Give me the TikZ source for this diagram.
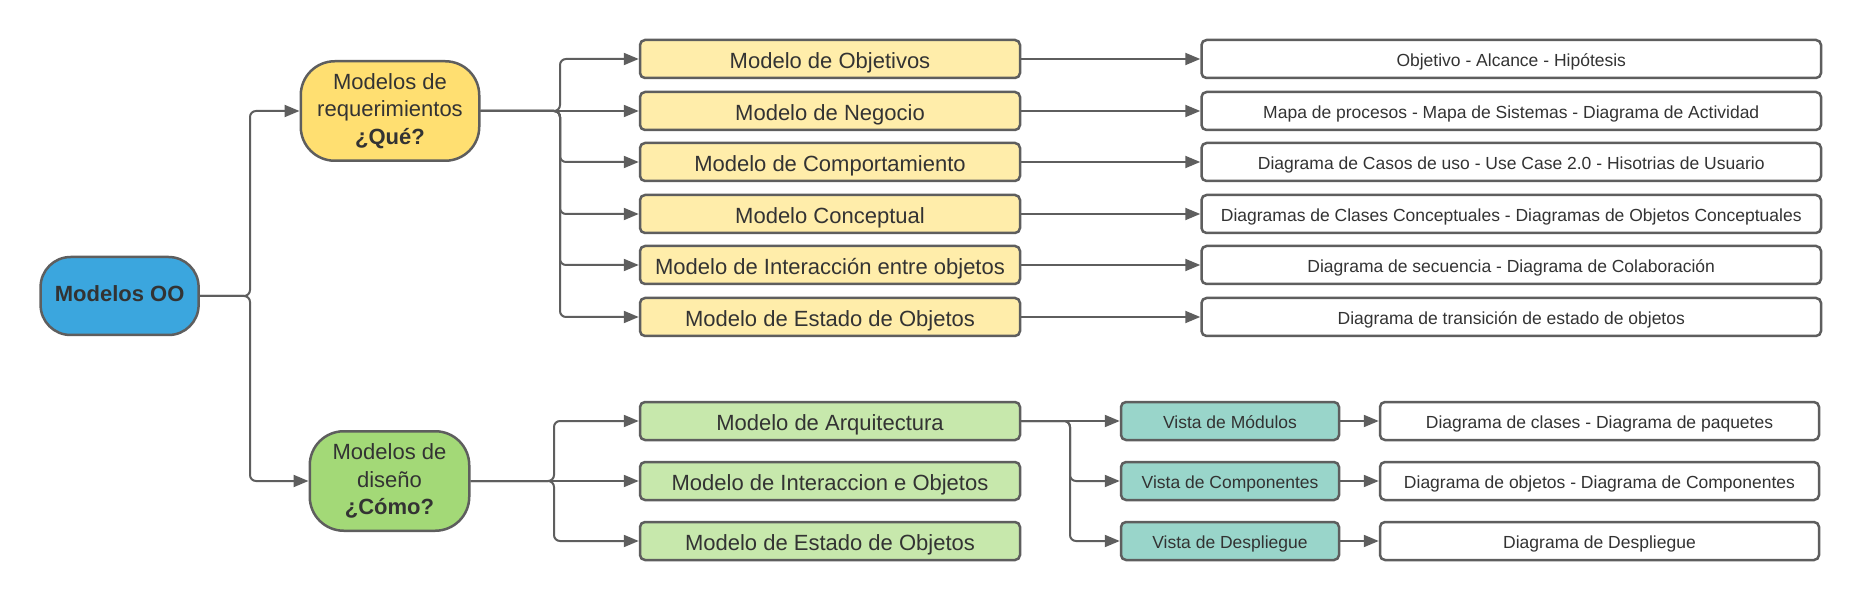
\documentclass[tikz,border=0pt]{standalone}
\usepackage{fontspec}
\setmainfont{Liberation Sans}
\usetikzlibrary{positioning,arrows.meta}

\definecolor{lnc}{HTML}{5E5E5E}
\definecolor{txc}{HTML}{333333}
\definecolor{blu}{HTML}{3BA6DE}
\definecolor{yel}{HTML}{FFDF71}
\definecolor{yelb}{HTML}{FFEDAA}
\definecolor{grn}{HTML}{A3D977}
\definecolor{grnb}{HTML}{C7E8AC}
\definecolor{tea}{HTML}{99D5CA}

\begin{document}
\begin{tikzpicture}[x=1pt, y=1pt, thick,
    base/.style={draw=lnc, line width=2.5pt, rounded corners=5pt, text=txc, minimum height=38pt, align=center},
    big/.style={base, rounded corners=34pt, minimum height=99.5pt, font=\fontsize{22}{27.5}\selectfont},
    ybox/.style={base, fill=yelb, minimum width=380pt, text height=19.8pt, text depth=0pt, font=\fontsize{22}{26}\selectfont},
    gbox/.style={base, fill=grnb, minimum width=380pt, text height=19.8pt, text depth=0pt, font=\fontsize{22}{26}\selectfont},
    tbox/.style={base, fill=tea, minimum width=218pt, text height=15.4pt, text depth=0pt, font=\fontsize{17.5}{21}\selectfont},
    wbox/.style={base, fill=white, minimum width=619.5pt, text height=15.4pt, text depth=0pt, font=\fontsize{17.5}{21}\selectfont},
    link/.style={draw=lnc, line width=2pt, rounded corners=6pt},
    arr/.style={link, -{Triangle[length=15pt,width=12pt]}}]
    \path[use as bounding box, fill=white] (0,0) rectangle (1860,-601);

    % main nodes
    \node[big, fill=blu, minimum width=158pt, minimum height=78pt, rounded corners=30pt, text depth=4.4pt, font=\fontsize{22}{26}\selectfont\bfseries] (root) at (119.6,-296) {Modelos OO};
    \node[big, fill=yel, minimum width=178.5pt] (yc) at (390,-111) {Modelos de\\requerimientos\\\textbf{¿Qué?}};
    \node[big, fill=grn, minimum width=159.5pt] (gc) at (389.5,-481) {Modelos de\\diseño\\\textbf{¿Cómo?}};

    % requirement models
    \node[ybox] (m1) at (830,-59) {Modelo de Objetivos};
    \node[ybox] (m2) [below=11.5pt of m1] {Modelo de Negocio};
    \node[ybox] (m3) [below=10.5pt of m2] {Modelo de Comportamiento};
    \node[ybox] (m4) [below=11.5pt of m3] {Modelo Conceptual};
    \node[ybox] (m5) [below=10.5pt of m4] {Modelo de Interacción entre objetos};
    \node[ybox] (m6) [below=11.5pt of m5] {Modelo de Estado de Objetos};

    \node[wbox] (w1) [right=179pt of m1] {Objetivo - Alcance - Hipótesis};
    \node[wbox] (w2) [right=179pt of m2] {Mapa de procesos - Mapa de Sistemas - Diagrama de Actividad};
    \node[wbox] (w3) [right=179pt of m3] {Diagrama de Casos de uso - Use Case 2.0 - Hisotrias de Usuario};
    \node[wbox] (w4) [right=179pt of m4] {Diagramas de Clases Conceptuales - Diagramas de Objetos Conceptuales};
    \node[wbox] (w5) [right=179pt of m5] {Diagrama de secuencia - Diagrama de Colaboración};
    \node[wbox] (w6) [right=179pt of m6] {Diagrama de transición de estado de objetos};

    % design models
    \node[gbox] (g1) at (830,-421) {Modelo de Arquitectura};
    \node[gbox] (g2) [below=19.5pt of g1] {Modelo de Interaccion e Objetos};
    \node[gbox] (g3) [below=19.5pt of g2] {Modelo de Estado de Objetos};

    \node[tbox] (v1) [right=98.5pt of g1] {Vista de Módulos};
    \node[tbox] (v2) [right=98.5pt of g2] {Vista de Componentes};
    \node[tbox] (v3) [right=98.5pt of g3] {Vista de Despliegue};

    \node[wbox, minimum width=439pt] (d1) [right=38.5pt of v1] {Diagrama de clases - Diagrama de paquetes};
    \node[wbox, minimum width=439pt] (d2) [right=38.5pt of v2] {Diagrama de objetos - Diagrama de Componentes};
    \node[wbox, minimum width=439pt] (d3) [right=38.5pt of v3] {Diagrama de Despliegue};

    % branch points
    \coordinate (rj) at (250,-296);
    \coordinate (yj) at (560,-111);
    \coordinate (gj) at (554,-481);
    \coordinate (aj) at (1070,-421);

    \draw[arr] (root) -- (rj) |- (yc);
    \draw[arr] (root) -- (rj) |- (gc);

    \draw[arr] (yc) -- (m2);
    \draw[arr] (yc) -- (yj) |- (m1);
    \draw[arr] (yc) -- (yj) |- (m3);
    \draw[arr] (yc) -- (yj) |- (m4);
    \draw[arr] (yc) -- (yj) |- (m5);
    \draw[arr] (yc) -- (yj) |- (m6);

    \draw[arr] (m1) -- (w1);
    \draw[arr] (m2) -- (w2);
    \draw[arr] (m3) -- (w3);
    \draw[arr] (m4) -- (w4);
    \draw[arr] (m5) -- (w5);
    \draw[arr] (m6) -- (w6);

    \draw[arr] (gc) -- (g2);
    \draw[arr] (gc) -- (gj) |- (g1);
    \draw[arr] (gc) -- (gj) |- (g3);

    \draw[arr] (g1) -- (v1);
    \draw[arr] (g1) -- (aj) |- (v2);
    \draw[arr] (g1) -- (aj) |- (v3);

    \draw[arr] (v1) -- (d1);
    \draw[arr] (v2) -- (d2);
    \draw[arr] (v3) -- (d3);
\end{tikzpicture}
\end{document}
